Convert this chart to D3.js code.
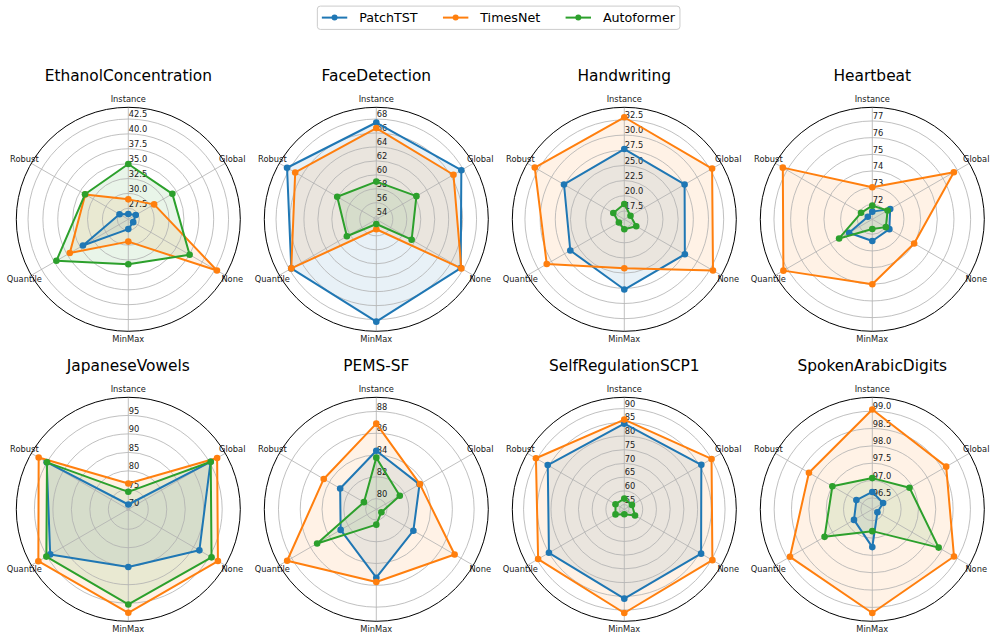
<!DOCTYPE html>
<html>
<head>
<meta charset="utf-8">
<script src="https://cdn.jsdelivr.net/npm/d3@7"></script>
<style>
  body { margin: 0; background: #fff; }
  text { font-family: "DejaVu Sans", sans-serif; }
</style>
</head>
<body>
<div id="chart"></div>
<script>
// boiler plate
const svgWidth = 997
const svgHeight = 640

// data
const datasets = ["EthanolConcentration", "FaceDetection", "Handwriting", "Heartbeat",
  "JapaneseVowels", "PEMS-SF", "SelfRegulationSCP1", "SpokenArabicDigits"]
const axisNames = ["Instance", "Global", "None", "MinMax", "Quantile", "Robust"]
const models = ["PatchTST", "TimesNet", "Autoformer"]

// values per dataset, in axisNames order
const patchtst = [
  [26.55, 27.1, 26.6, 27.3, 34.45, 27.35],
  [67.5, 67.7, 67.6, 68.3, 67.7, 68.4],
  [27.7, 27.6, 27.65, 27.7, 26.4, 27.6],
  [71.56, 72.34, 72.28, 72.4, 72.71, 71.41],
  [70.9, 95.3, 91.8, 85.2, 94.0, 95.1],
  [84.4, 83.6, 82.95, 85.3, 82.8, 82.85],
  [84.5, 85.7, 85.6, 85.85, 85.0, 85.5],
  [96.67, 96.53, 96.34, 97.26, 96.78, 96.7]
]
const timesnet = [
  [29.0, 30.66, 42.85, 29.4, 37.0, 34.0],
  [66.7, 66.4, 67.7, 55.06, 67.7, 67.05],
  [32.94, 32.83, 33.0, 24.2, 30.88, 33.16],
  [73.02, 76.75, 74.0, 75.0, 77.26, 77.3],
  [76.6, 97.35, 97.6, 97.6, 97.7, 97.6],
  [86.88, 83.64, 87.32, 85.69, 88.47, 84.59],
  [85.97, 90.0, 90.35, 91.08, 89.55, 90.47],
  [99.05, 98.63, 98.89, 99.16, 98.91, 98.28]
]
const autoformer = [
  [34.95, 34.2, 37.55, 33.2, 39.6, 34.05],
  [59.03, 60.27, 59.48, 54.3, 58.5, 60.1],
  [18.66, 17.31, 18.4, 17.78, 17.16, 18.22],
  [71.92, 72.16, 72.04, 71.68, 73.4, 71.88],
  [74.33, 95.35, 95.6, 95.35, 95.2, 95.0],
  [83.76, 81.51, 79.56, 80.43, 85.29, 80.33],
  [57.18, 56.5, 57.8, 55.11, 57.0, 57.0],
  [97.07, 97.41, 98.38, 96.8, 97.76, 97.5]
]

// radial limits (centre, rim) and ticks
const rMin = [25.65, 53.63, 16.13, 71.1, 69.6, 79.02, 53.29, 96.17]
const rMax = [44.47, 69.68, 34.58, 77.82, 99.9, 89.3, 94.1, 99.4]
const tickLabels = [
  ["27.5", "30.0", "32.5", "35.0", "37.5", "40.0", "42.5"],
  ["54", "56", "58", "60", "62", "64", "66", "68"],
  ["17.5", "20.0", "22.5", "25.0", "27.5", "30.0", "32.5"],
  ["72", "73", "74", "75", "76", "77"],
  ["70", "75", "80", "85", "90", "95"],
  ["80", "82", "84", "86", "88"],
  ["55", "60", "65", "70", "75", "80", "85", "90"],
  ["96.5", "97.0", "97.5", "98.0", "98.5", "99.0"]
]

const colors = ["#1f77b4", "#ff7f0e", "#2ca02c"]
const series = [patchtst, timesnet, autoformer]

let radius = 112
let colX = [128.3, 376.3, 624.3, 872.3]
let rowY = [219.3, 509.3]

let svg = d3
  .select("#chart")
  .append("svg")
  .attr("width", svgWidth)
  .attr("height", svgHeight)

let angle = d3.scalePoint()
  .domain(axisNames)
  .range([0, 2 * Math.PI * 5 / 6])

datasets.forEach((name, i) => {
  let g = svg.append("g")
    .attr("transform", `translate(${colX[i % 4]}, ${rowY[Math.floor(i / 4)]})`)

  let r = d3.scaleLinear()
    .domain([rMin[i], rMax[i]])
    .range([0, radius])

  let line = d3.lineRadial()
    .angle((d, j) => angle(axisNames[j]))
    .radius(d => r(d))
    .curve(d3.curveLinearClosed)

  // fills go under the grid
  series.forEach((s, k) => {
    g.append("path")
      .attr("d", line(s[i]))
      .attr("fill", colors[k])
      .attr("fill-opacity", 0.1)
      .attr("stroke", "none")
  })

  // rings + spokes
  tickLabels[i].forEach(t => {
    g.append("circle")
      .attr("r", r(+t))
      .attr("fill", "none")
      .attr("stroke", "#b0b0b0")
      .attr("stroke-width", 0.8)
  })
  axisNames.forEach(a => {
    let p = d3.pointRadial(angle(a), radius)
    g.append("line")
      .attr("x1", 0).attr("y1", 0)
      .attr("x2", p[0]).attr("y2", p[1])
      .attr("stroke", "#b0b0b0")
      .attr("stroke-width", 0.8)
  })

  // radial tick labels, bottom sitting on the ring
  tickLabels[i].forEach(t => {
    g.append("text")
      .attr("x", 0.5)
      .attr("y", -r(+t) - 4.8)
      .attr("dominant-baseline", "central")
      .attr("font-size", "8.3px")
      .attr("fill", "#1a1a1a")
      .text(t)
  })

  // axis names round the rim
  axisNames.forEach(a => {
    let p = d3.pointRadial(angle(a), radius + 8)
    g.append("text")
      .attr("x", p[0])
      .attr("y", p[1])
      .attr("text-anchor", "middle")
      .attr("dominant-baseline", "central")
      .attr("font-size", "8.3px")
      .attr("fill", "#1a1a1a")
      .text(a)
  })

  // outer spine
  g.append("circle")
    .attr("r", radius)
    .attr("fill", "none")
    .attr("stroke", "#000")
    .attr("stroke-width", 1)

  // lines and markers
  series.forEach((s, k) => {
    g.append("path")
      .attr("d", line(s[i]))
      .attr("fill", "none")
      .attr("stroke", colors[k])
      .attr("stroke-width", 2)
      .attr("stroke-linejoin", "round")

    g.selectAll(null)
      .data(s[i])
      .enter()
      .append("circle")
      .attr("cx", (d, j) => d3.pointRadial(angle(axisNames[j]), r(d))[0])
      .attr("cy", (d, j) => d3.pointRadial(angle(axisNames[j]), r(d))[1])
      .attr("r", 3.3)
      .attr("fill", colors[k])
  })

  // title
  g.append("text")
    .attr("y", -138.3)
    .attr("text-anchor", "middle")
    .attr("font-size", "15.4px")
    .attr("fill", "#000")
    .text(name)
})

// legend
let legend = svg.append("g")
let lx = 0
models.forEach((m, k) => {
  let item = legend.append("g").attr("transform", `translate(${lx}, 0)`)
  item.append("line")
    .attr("x1", 0).attr("x2", 25.4)
    .attr("y1", 0).attr("y2", 0)
    .attr("stroke", colors[k])
    .attr("stroke-width", 2)
  item.append("circle")
    .attr("cx", 12.7)
    .attr("r", 3)
    .attr("fill", colors[k])
  let t = item.append("text")
    .attr("x", 37.3)
    .attr("dominant-baseline", "central")
    .attr("font-size", "12.7px")
    .attr("fill", "#000")
    .text(m)
  lx += 37.3 + t.node().getComputedTextLength() + 25.4
})
let legendW = lx - 25.4
legend.insert("rect", ":first-child")
  .attr("x", -4.5)
  .attr("y", -11.5)
  .attr("width", legendW + 9.5)
  .attr("height", 23.3)
  .attr("rx", 3)
  .attr("fill", "#fff")
  .attr("stroke", "#cccccc")
  .attr("stroke-width", 1)
legend.attr("transform", `translate(${498.4 - legendW / 2}, 17.6)`)
</script>
</body>
</html>
